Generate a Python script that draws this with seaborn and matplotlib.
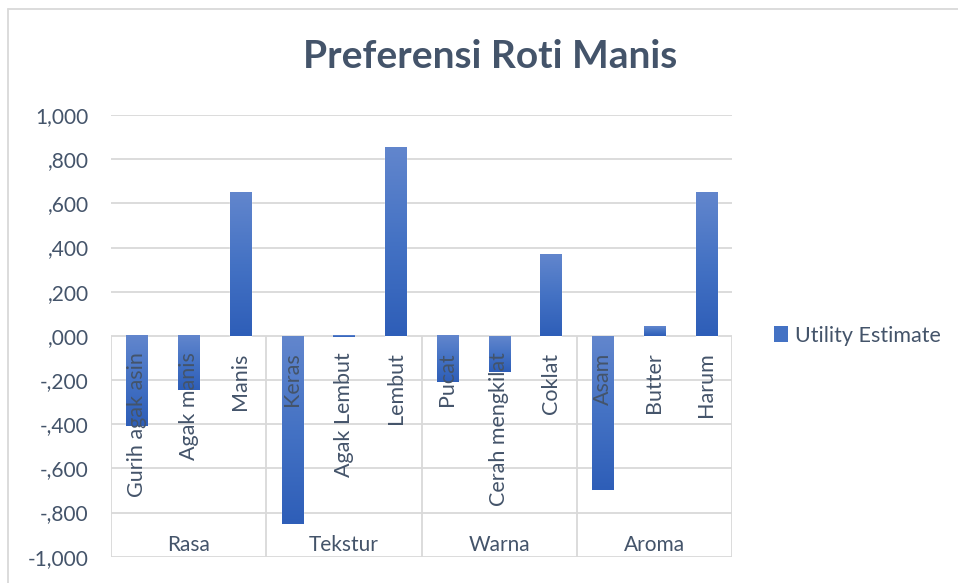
import numpy as np
import pandas as pd
import matplotlib
matplotlib.use("Agg")
import matplotlib.pyplot as plt
import seaborn as sns
from matplotlib.colors import LinearSegmentedColormap
from matplotlib.lines import Line2D
from matplotlib.patches import Patch

# ---- data ----
groups = ["Rasa", "Tekstur", "Warna", "Aroma"]
levels = ["Gurih agak asin", "Agak manis", "Manis",
          "Keras", "Agak Lembut", "Lembut",
          "Pucat", "Cerah mengkilat", "Coklat",
          "Asam", "Butter", "Harum"]
level_group = ["Rasa"] * 3 + ["Tekstur"] * 3 + ["Warna"] * 3 + ["Aroma"] * 3
utility = [-0.410, -0.245, 0.652,
           -0.850, -0.006, 0.852,
           -0.211, -0.163, 0.367,
           -0.697, 0.041, 0.652]
series_name = "Utility Estimate"
title = "Preferensi Roti Manis"
y_ticks = [1.0, 0.8, 0.6, 0.4, 0.2, 0.0, -0.2, -0.4, -0.6, -0.8, -1.0]
y_tick_labels = ["1,000", ",800", ",600", ",400", ",200", ",000",
                 "-,200", "-,400", "-,600", "-,800", "-1,000"]

df = pd.DataFrame({"level": levels, "group": level_group, "utility": utility})

# ---- style ----
sns.set_theme(style="white")
plt.rcParams["font.family"] = ["Lato", "DejaVu Sans"]
text_color = "#44546A"
grid_color = "#D9D9D9"
bar_color = "#4472C4"
cmap = LinearSegmentedColormap.from_list("bar", ["#2E5EB8", "#4472C4", "#6286CD"])

fig = plt.figure(figsize=(9.58, 5.83), dpi=100)
ax = fig.add_axes([111 / 958, 1 - 556.7 / 583, (732 - 111) / 958, (556.7 - 115) / 583])

sns.barplot(data=df, x="level", y="utility", color=bar_color, width=0.41,
            saturation=1, ax=ax, zorder=2, order=levels)

# gradient fill on each bar
grad = np.linspace(0, 1, 256).reshape(-1, 1)
for p in ax.patches:
    x0, w = p.get_x(), p.get_width()
    y0, h = p.get_y(), p.get_height()
    lo, hi = min(y0, y0 + h), max(y0, y0 + h)
    ax.imshow(grad, extent=[x0, x0 + w, lo, hi], aspect="auto", cmap=cmap,
              origin="lower", zorder=2.1, interpolation="bilinear")

ax.set_xlim(-0.5, len(levels) - 0.5)
ax.set_ylim(-1.0, 1.0)

# grid
ax.set_axisbelow(True)
ax.yaxis.grid(True, color=grid_color, linewidth=1.3)
ax.xaxis.grid(False)
for s in ax.spines.values():
    s.set_visible(False)

# y ticks
ax.set_yticks(y_ticks)
ax.set_yticklabels(y_tick_labels)
ax.tick_params(axis="y", length=0, pad=16, labelsize=15, labelcolor=text_color)
ax.set_xticks([])
ax.set_xlabel("")
ax.set_ylabel("")

# group separators (multi-level category axis)
n_per = [level_group.count(g) for g in groups]
bounds = np.concatenate([[0], np.cumsum(n_per)]) - 0.5
ax.vlines(bounds, -1.0, 0.0, color=grid_color, linewidth=1.3, zorder=1)

# level labels (rotated, hanging below zero line)
for i, lab in enumerate(levels):
    ax.annotate(lab, xy=(i, 0), xytext=(0, -12), textcoords="offset points",
                rotation=90, ha="center", va="top", fontsize=15.5,
                color=text_color, zorder=5)

# group labels
for g, a, b in zip(groups, bounds[:-1], bounds[1:]):
    ax.text((a + b) / 2, -0.972, g, ha="center", va="baseline",
            fontsize=15, color=text_color, zorder=5)

# title
fig.text(490 / 958, 1 - 57 / 583, title, ha="center", va="center",
         fontsize=28, fontweight="bold", color=text_color)

# legend
handle = Patch(facecolor=bar_color, edgecolor="none")
leg = ax.legend([handle], [series_name], loc="center left",
                bbox_to_anchor=(774 / 958, 1 - 335.5 / 583),
                bbox_transform=fig.transFigure, frameon=False,
                borderpad=0, borderaxespad=0, handlelength=0.66,
                handleheight=0.7, handletextpad=0.3, fontsize=15.5)
for t in leg.get_texts():
    t.set_color(text_color)

# chart area border (left and top visible)
fig.add_artist(Line2D([8 / 958, 8 / 958], [0, 1 - 9 / 583], color=grid_color,
                      linewidth=1.3, transform=fig.transFigure))
fig.add_artist(Line2D([8 / 958, 1], [1 - 9 / 583, 1 - 9 / 583], color=grid_color,
                      linewidth=1.3, transform=fig.transFigure))

fig.savefig("out.png", dpi=100, facecolor="white")
